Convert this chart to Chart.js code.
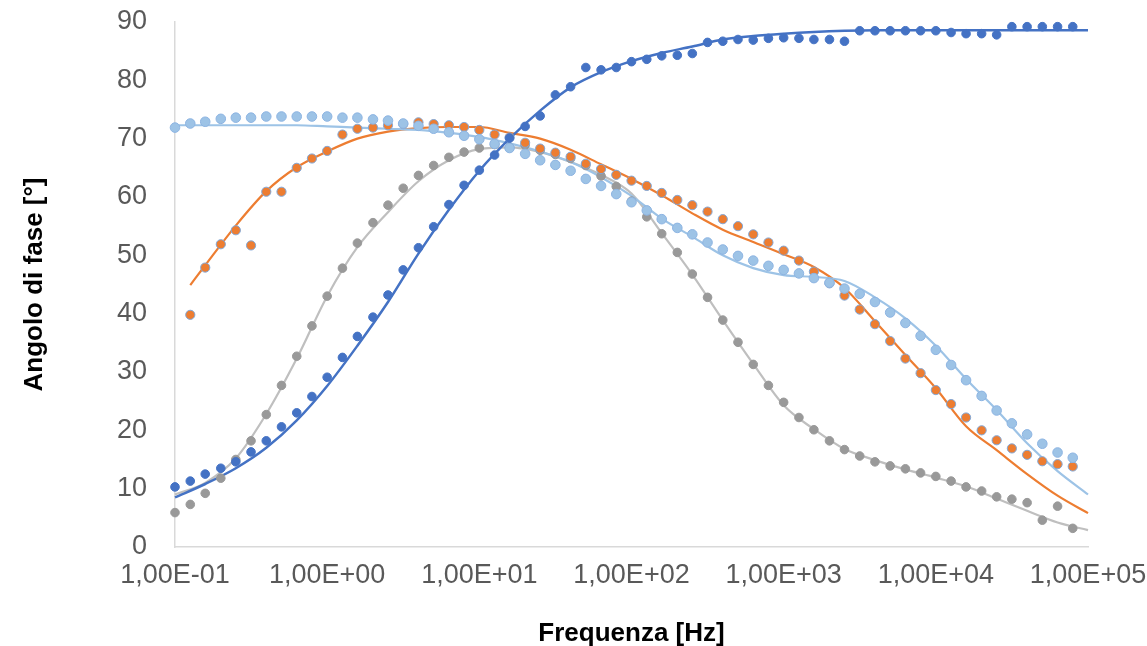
<!DOCTYPE html>
<html lang="it">
<head>
<meta charset="UTF-8">
<title>Angolo di fase</title>
<script src="https://cdn.jsdelivr.net/npm/chart.js"></script>
<style>
  html, body { margin: 0; padding: 0; background: #fff; }
  #wrap { width: 1147px; height: 646px; }
</style>
</head>
<body>
<div id="wrap"><canvas id="phase-chart" width="1147" height="646"></canvas></div>
<script>
// frequenze misurate (10 punti per decade)
const freq = [
  0.1, 0.126, 0.158, 0.2, 0.251, 0.316, 0.398, 0.501, 0.631, 0.794,
  1, 1.26, 1.58, 2, 2.51, 3.16, 3.98, 5.01, 6.31, 7.94,
  10, 12.6, 15.8, 20, 25.1, 31.6, 39.8, 50.1, 63.1, 79.4,
  100, 126, 158, 200, 251, 316, 398, 501, 631, 794,
  1000, 1260, 1580, 2000, 2510, 3160, 3980, 5010, 6310, 7940,
  10000, 12600, 15800, 20000, 25100, 31600, 39800, 50100, 63100, 79400
];

// punti sperimentali
const darkBlue = [
  10.3, 11.3, 12.5, 13.5, 14.6, 16.3, 18.2, 20.6, 23.0, 25.8,
  29.1, 32.5, 36.1, 39.4, 43.2, 47.5, 51.3, 54.9, 58.7, 62.0,
  64.6, 67.2, 70.1, 72.1, 73.9, 77.5, 78.9, 82.2, 81.8, 82.2,
  83.2, 83.6, 84.2, 84.3, 84.6, 86.5, 86.7, 87.0, 86.9, 87.2,
  87.3, 87.2, 87.0, 87.0, 86.7, 88.5, 88.5, 88.5, 88.5, 88.5,
  88.5, 88.2, 88.0, 88.0, 87.8, 89.2, 89.2, 89.2, 89.2, 89.2
];
const lightBlue = [
  71.9, 72.6, 72.9, 73.4, 73.6, 73.6, 73.8, 73.8, 73.8, 73.8,
  73.8, 73.6, 73.6, 73.3, 73.1, 72.6, 72.2, 71.7, 71.1, 70.5,
  69.9, 69.1, 68.4, 67.4, 66.3, 65.5, 64.5, 63.1, 61.9, 60.5,
  59.1, 57.7, 56.2, 54.7, 53.6, 52.2, 51.0, 49.9, 49.1, 48.2,
  47.5, 46.9, 46.1, 45.3, 44.3, 43.4, 42.0, 40.2, 38.4, 36.2,
  33.8, 31.2, 28.6, 25.9, 23.4, 21.2, 19.3, 17.7, 16.2, 15.3
];
const orange = [
  null, 39.8, 47.9, 51.9, 54.3, 51.7, 60.9, 60.9, 65.0, 66.6,
  67.9, 70.7, 71.7, 71.9, 72.3, 72.5, 72.8, 72.5, 72.3, 72.0,
  71.5, 70.7, 70.2, 69.3, 68.3, 67.6, 66.9, 65.7, 64.8, 63.8,
  62.8, 61.9, 60.7, 59.5, 58.6, 57.5, 56.2, 55.0, 53.6, 52.2,
  50.8, 49.1, 47.2, 45.2, 43.1, 40.7, 38.2, 35.3, 32.3, 29.8,
  26.9, 24.5, 22.2, 20.0, 18.3, 16.9, 15.8, 14.7, 14.2, 13.8
];
const gray = [
  5.9, 7.3, 9.2, 11.8, 15.0, 18.2, 22.7, 27.7, 32.7, 37.9,
  43.0, 47.8, 52.1, 55.6, 58.6, 61.5, 63.7, 65.4, 66.8, 67.7,
  68.4, 69.0, 68.5, 68.9, 68.0, 67.3, 66.6, 65.4, 63.6, 61.8,
  59.3, 56.6, 53.7, 50.5, 46.8, 42.8, 38.9, 35.1, 31.3, 27.7,
  24.8, 22.2, 20.1, 18.2, 16.7, 15.6, 14.6, 13.9, 13.4, 12.7,
  12.1, 11.3, 10.3, 9.6, 8.6, 8.2, 7.6, 4.6, 7.0, 3.2
];

// curve di fit (lette ogni 0,2 decadi)
const fitFreq = [
  0.1, 0.158, 0.251, 0.398, 0.631, 1, 1.58, 2.51, 3.98, 6.31,
  10, 15.8, 25.1, 39.8, 63.1, 100, 158, 251, 398, 631,
  1000, 1580, 2510, 3980, 6310, 10000, 15800, 25100, 39800, 63100, 100000
];
const orangeFitFreq = [0.126].concat(fitFreq.slice(1));

const darkBlueFit = [
  8.5, 10.8, 13.5, 17.0, 21.7, 27.6, 34.5, 42.0, 50.3, 57.8,
  64.5, 70.0, 74.8, 78.8, 81.4, 83.3, 84.7, 85.8, 87.0, 87.6,
  88.0, 88.3, 88.5, 88.6, 88.6, 88.6, 88.6, 88.6, 88.6, 88.6, 88.6
];
const lightBlueFit = [
  72.3, 72.3, 72.3, 72.3, 72.3, 72.1, 71.9, 71.7, 71.5, 71.0,
  70.3, 69.2, 67.8, 66.0, 63.4, 60.2, 56.3, 53.2, 50.0, 47.8,
  46.6, 46.3, 45.6, 42.8, 39.2, 34.5, 28.8, 23.5, 17.8, 13.0, 9.0
];
const orangeFit = [
  44.9, 48.3, 55.1, 61.0, 65.1, 67.8, 70.0, 71.2, 71.8, 72.0,
  72.0, 71.0, 70.0, 68.1, 65.6, 63.1, 60.3, 57.2, 54.4, 52.3,
  50.2, 48.0, 44.4, 38.7, 32.9, 27.2, 20.7, 16.6, 12.5, 8.8, 5.8
];
const grayFit = [
  9.0, 11.0, 15.2, 22.8, 32.3, 43.0, 51.4, 57.4, 62.7, 66.3,
  68.2, 68.5, 67.7, 66.0, 63.8, 60.6, 53.8, 46.7, 38.9, 31.4,
  24.3, 20.2, 16.8, 14.9, 13.3, 11.9, 10.4, 8.3, 6.2, 4.2, 2.9
];

const xTicks = [0.1, 1, 10, 100, 1000, 10000, 100000];
const yTicks = [0, 10, 20, 30, 40, 50, 60, 70, 80, 90];

function toPoints(xs, ys) {
  return xs.map((x, i) => ({ x: x, y: ys[i] })).filter(p => p.y !== null);
}

function expLabel(v) {
  const e = Math.round(Math.log10(v));
  const sign = e < 0 ? '-' : '+';
  return '1,00E' + sign + String(Math.abs(e)).padStart(2, '0');
}

function dots(data, fill, border, radius) {
  return {
    data: data,
    backgroundColor: fill,
    borderColor: border,
    borderWidth: 1,
    pointRadius: radius,
    showLine: false,
    clip: false,
    order: 0
  };
}

function fit(data, color, width) {
  return {
    data: data,
    borderColor: color,
    backgroundColor: color,
    borderWidth: width,
    pointRadius: 0,
    showLine: true,
    cubicInterpolationMode: 'monotone',
    clip: false,
    order: 1
  };
}

const tickFont = { family: "'Liberation Sans', Arial, sans-serif", size: 27 };
const titleFont = { family: "'Liberation Sans', Arial, sans-serif", size: 26, weight: 'bold' };

new Chart(document.getElementById('phase-chart'), {
  type: 'scatter',
  data: {
    datasets: [
      dots(toPoints(freq, darkBlue), '#4472C4', '#4472C4', 4.3),
      dots(toPoints(freq, lightBlue), '#9DC3E6', '#8DB4E2', 4.8),
      dots(toPoints(freq, orange), '#ED7D31', '#7FA7D9', 4.6),
      dots(toPoints(freq, gray), '#999999', '#999999', 4.3),
      fit(toPoints(fitFreq, darkBlueFit), '#4472C4', 2.5),
      fit(toPoints(fitFreq, lightBlueFit), '#9DC3E6', 2.2),
      fit(toPoints(orangeFitFreq, orangeFit), '#ED7D31', 2.2),
      fit(toPoints(fitFreq, grayFit), '#BFBFBF', 2.2)
    ]
  },
  options: {
    responsive: false,
    animation: false,
    layout: { padding: { left: 0, top: 22, right: 59, bottom: 0 } },
    plugins: {
      legend: { display: false },
      tooltip: { enabled: false }
    },
    scales: {
      x: {
        type: 'logarithmic',
        min: 0.1,
        max: 100000,
        afterBuildTicks: s => { s.ticks = xTicks.map(v => ({ value: v })); },
        afterFit: s => { s.height = 99; s.paddingLeft = 0; s.paddingRight = 0; },
        grid: { display: false, drawTicks: true, tickLength: 12 },
        border: { display: true, color: '#D9D9D9', width: 1.5 },
        ticks: {
          color: '#595959',
          font: tickFont,
          padding: 0,
          maxRotation: 0,
          autoSkip: false,
          callback: v => expLabel(v)
        },
        title: {
          display: true,
          text: 'Frequenza [Hz]',
          color: '#000',
          font: titleFont,
          padding: { top: 0, bottom: -3 }
        }
      },
      y: {
        min: 0,
        max: 90,
        afterBuildTicks: s => { s.ticks = yTicks.map(v => ({ value: v })); },
        afterFit: s => { s.width = 175; s.paddingTop = 0; s.paddingBottom = 0; },
        grid: { display: false, drawTicks: true, tickLength: 28 },
        border: { display: true, color: '#D9D9D9', width: 1.5 },
        ticks: {
          color: '#595959',
          font: tickFont,
          padding: 0
        },
        title: {
          display: true,
          text: 'Angolo di fase [°]',
          color: '#000',
          font: titleFont,
          padding: { top: 19, bottom: 0 }
        }
      }
    }
  }
});
</script>
</body>
</html>
